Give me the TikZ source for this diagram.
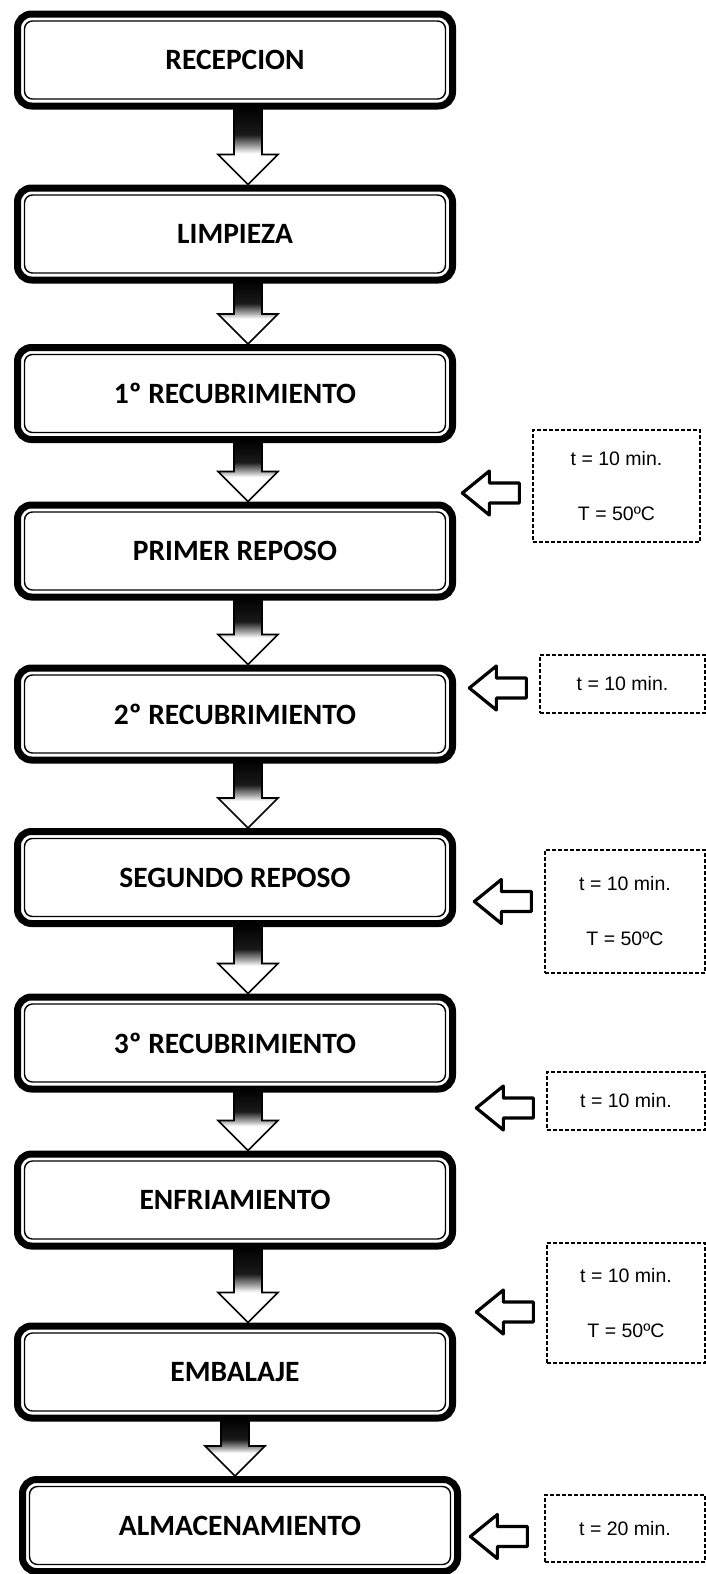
\documentclass[tikz,border=0pt]{standalone}
\usepackage{fontspec}
\setmainfont{Liberation Sans}
\newfontfamily\boxfont{Carlito}
\usetikzlibrary{calc}
\pgfdeclareverticalshading{arrsh}{100bp}{color(0bp)=(white); color(25bp)=(white); color(45bp)=(white); color(50bp)=(black!40); color(57bp)=(black!90); color(75bp)=(black); color(100bp)=(black)}
\tikzset{
 stage/.style={draw=black, line width=7pt, rounded corners=14pt, fill=white, minimum width=435pt, minimum height=92pt, inner sep=0pt, font=\boxfont\bfseries\fontsize{29.5}{31}\selectfont},
 innerline/.style={draw=black, line width=1.4pt, rounded corners=8pt},
 note/.style={draw=black, line width=1.3pt, dash pattern=on 4pt off 2pt, inner sep=0pt, align=center, font=\fontsize{19.5}{55}\selectfont},
 flow/.style={draw=black, line width=1.6pt, line join=miter, shading=arrsh},
 larrow/.pic={\draw[black, fill=white, line width=3.2pt, line join=round] (0,0) -- (27,-22) -- (27,-10) -- (57,-10) -- (57,10) -- (27,10) -- (27,22) -- cycle;}
}
% #1 upper stage, #2 lower stage, #3 horizontal offset of the arrow from the upper stage's centre
\newcommand\flowarrow[3]{%
  \path ($(#1.south)+(#3,0)$) coordinate (ta);
  \path (ta |- #2.north) coordinate (tb);
  \shadedraw[flow] ($(ta)+(-14,-3)$) -- ($(ta)+(14,-3)$) -- ($(tb)+(14,-30)$) -- ($(tb)+(30,-30)$) -- (tb) -- ($(tb)+(-30,-30)$) -- ($(tb)+(-14,-30)$) -- cycle;}
\begin{document}
\begin{tikzpicture}[x=1pt,y=-1pt]
\useasboundingbox (0,0) rectangle (706,1574);
\fill[white] (0,0) rectangle (706,1574);

\node[stage] (b1) at (235,60) {RECEPCION};
\node[stage] (b2) at (235,234) {LIMPIEZA};
\node[stage] (b3) at (235,393.5) {1º RECUBRIMIENTO};
\node[stage] (b4) at (235,551) {PRIMER REPOSO};
\node[stage] (b5) at (235,714) {2º RECUBRIMIENTO};
\node[stage] (b6) at (235,877.5) {SEGUNDO REPOSO};
\node[stage] (b7) at (235,1043) {3º RECUBRIMIENTO};
\node[stage] (b8) at (235,1200) {ENFRIAMIENTO};
\node[stage] (b9) at (235,1372) {EMBALAJE};
\node[stage] (b10) at (240,1525.5) {ALMACENAMIENTO};

\foreach \n in {b1,b2,b3,b4,b5,b6,b7,b8,b9,b10}
  \draw[innerline] ($(\n.south west)+(10.5,-10.5)$) rectangle ($(\n.north east)+(-10.5,10.5)$);

\foreach \a/\b in {b1/b2,b2/b3,b3/b4,b4/b5,b5/b6,b6/b7,b7/b8,b8/b9}
  \flowarrow{\a}{\b}{13};
\flowarrow{b9}{b10}{0}

\node[note, minimum width=167pt, minimum height=112pt] (s1) at (616.5,486) {t = 10 min.\\T = 50ºC};
\node[note, minimum width=165pt, minimum height=58pt] (s2) at (622.5,684) {t = 10 min.};
\node[note, minimum width=160pt, minimum height=123pt] (s3) at (625,911.5) {t = 10 min.\\T = 50ºC};
\node[note, minimum width=158pt, minimum height=58pt] (s4) at (626,1101) {t = 10 min.};
\node[note, minimum width=158pt, minimum height=120pt] (s5) at (626,1303) {t = 10 min.\\T = 50ºC};
\node[note, minimum width=160pt, minimum height=67pt] (s6) at (625,1528.5) {t = 20 min.};

\pic at ($(s1.west)+(-70,7)$) {larrow};
\pic at ($(s2.west)+(-70,4)$) {larrow};
\pic at ($(s3.west)+(-70,-10)$) {larrow};
\pic at ($(s4.west)+(-70,7)$) {larrow};
\pic at ($(s5.west)+(-70,9)$) {larrow};
\pic at ($(s6.west)+(-74,8)$) {larrow};
\end{tikzpicture}
\end{document}
